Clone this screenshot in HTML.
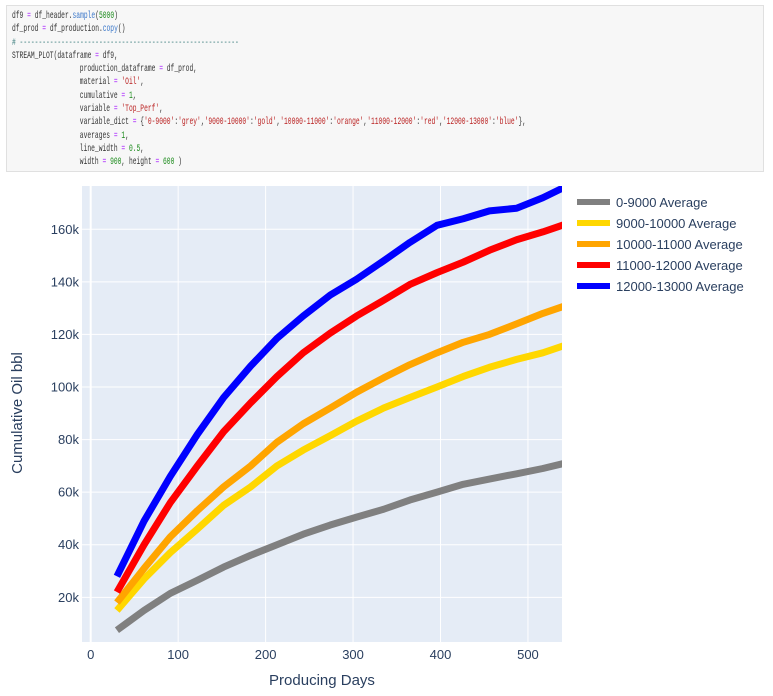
<!DOCTYPE html>
<html><head><meta charset="utf-8">
<style>
body{margin:0;width:773px;height:696px;background:#fff;overflow:hidden;position:relative;font-family:"Liberation Sans",sans-serif}
#code{position:absolute;left:6px;top:5px;width:758px;height:167px;background:#f7f7f7;border:1px solid #e0e0e0;box-sizing:border-box;overflow:hidden}
#code pre{margin:0;position:absolute;left:5px;top:4px;font-family:"Liberation Mono",monospace;font-size:10.5px;line-height:13.3px;color:#333;transform:scaleX(0.6);transform-origin:0 0}
.i{display:inline-block;width:113px}
.f{color:#3a77c9}.n{color:#1a8a1a}.s{color:#ba2121}.c{color:#408080}.o{color:#aa22ff}
svg{position:absolute;left:0;top:0}
</style></head><body>
<div id="code"><pre>df9 <span class="o">=</span> df_header.<span class="f">sample</span>(<span class="n">5000</span>)
df_prod <span class="o">=</span> df_production.<span class="f">copy</span>()
<span class="c"># ----------------------------------------------------------</span>
STREAM_PLOT(dataframe <span class="o">=</span> df9,
<span class="i"></span>production_dataframe <span class="o">=</span> df_prod,
<span class="i"></span>material <span class="o">=</span> <span class="s">'Oil'</span>,
<span class="i"></span>cumulative <span class="o">=</span> <span class="n">1</span>,
<span class="i"></span>variable <span class="o">=</span> <span class="s">'Top_Perf'</span>,
<span class="i"></span>variable_dict <span class="o">=</span> {<span class="s">'0-9000'</span>:<span class="s">'grey'</span>,<span class="s">'9000-10000'</span>:<span class="s">'gold'</span>,<span class="s">'10000-11000'</span>:<span class="s">'orange'</span>,<span class="s">'11000-12000'</span>:<span class="s">'red'</span>,<span class="s">'12000-13000'</span>:<span class="s">'blue'</span>},
<span class="i"></span>averages <span class="o">=</span> <span class="n">1</span>,
<span class="i"></span>line_width <span class="o">=</span> <span class="n">0.5</span>,
<span class="i"></span>width <span class="o">=</span> <span class="n">900</span>, height <span class="o">=</span> <span class="n">600</span> )</pre></div>
<svg id="chart" width="773" height="696"></svg>
<script>
const days=[30,61,91,122,152,183,213,243,274,304,335,365,396,426,456,487,517,548];
const seriesNames=["0-9000 Average","9000-10000 Average","10000-11000 Average","11000-12000 Average","12000-13000 Average"];
const seriesColors=["#808080","#ffd700","#ffa500","#ff0000","#0000ff"];
const grey=[7.5,15,21.5,26.5,31.5,36,40,44,47.5,50.5,53.5,57,60,63,65,67,69,71.5];
const gold=[15,27,37,46,55,62,70,76,81.5,87,92,96,100,104,107.5,110.5,113,116.5];
const orange=[18,31,43,53,62,70,79,86,92,98,103.5,108.5,113,117,120,124,128,131.5];
const red=[22,40,56,70,83,94,104,113,120.5,127,133,139,143.5,147.5,152,156,159,162.5];
const blue=[28,49,66,82,96,108,118.5,127,135,141,148,155,161.5,164,167,168,172,177];
const xTicks=[0,100,200,300,400,500];
const yTicks=[20,40,60,80,100,120,140,160];
const NS="http://www.w3.org/2000/svg";
const svg=document.getElementById('chart');
const L=82,R=562,T=186,B=642;
const X=d=>90.7+d*0.8745;
const Y=v=>649.9-v*2.629;
function mk(t,a,p){const e=document.createElementNS(NS,t);for(const k in a)e.setAttribute(k,a[k]);(p||svg).appendChild(e);return e;}
const bg=mk('rect',{x:L,y:T,width:R-L,height:B-T,fill:'#e5ecf6'});


xTicks.forEach(t=>{
 const g=mk('line',{x1:X(t),x2:X(t),y1:T,y2:B,stroke:'#fff','stroke-width':t===0?2:1});
 
 
 const l=mk('text',{x:X(t),y:659,'text-anchor':'middle','font-size':13,fill:'#2a3f5f'});l.textContent=t;
 
 
});
yTicks.forEach(t=>{
 const g=mk('line',{x1:L,x2:R,y1:Y(t),y2:Y(t),stroke:'#fff','stroke-width':1});
 
 
 const l=mk('text',{x:79,y:Y(t)+4.5,'text-anchor':'end','font-size':13,fill:'#2a3f5f'});l.textContent=t+'k';
 
 
});
const clip=mk('clipPath',{id:'cp'});mk('rect',{x:L,y:T,width:R-L,height:B-T},clip);
const all=[grey,gold,orange,red,blue];
all.forEach((s,i)=>{
 const p=mk('polyline',{points:s.map((v,j)=>X(days[j])+','+Y(v)).join(' '),fill:'none',stroke:seriesColors[i],'stroke-width':7,'stroke-linejoin':'round','clip-path':'url(#cp)'});
 
 
 const ly=202+i*21;
 const ll=mk('line',{x1:577,x2:610,y1:ly,y2:ly,stroke:seriesColors[i],'stroke-width':6});
 
 
 const lt=mk('text',{x:616,y:ly+5,'font-size':13,fill:'#2a3f5f'});lt.textContent=seriesNames[i];
 
 
});
const xt=mk('text',{x:322,y:685,'text-anchor':'middle','font-size':15,fill:'#2a3f5f'});xt.textContent='Producing Days';


const yt=mk('text',{x:0,y:0,'text-anchor':'middle','font-size':15,fill:'#2a3f5f',transform:'translate(22,413) rotate(-90)'});yt.textContent='Cumulative Oil bbl';


</script>
</body></html>
